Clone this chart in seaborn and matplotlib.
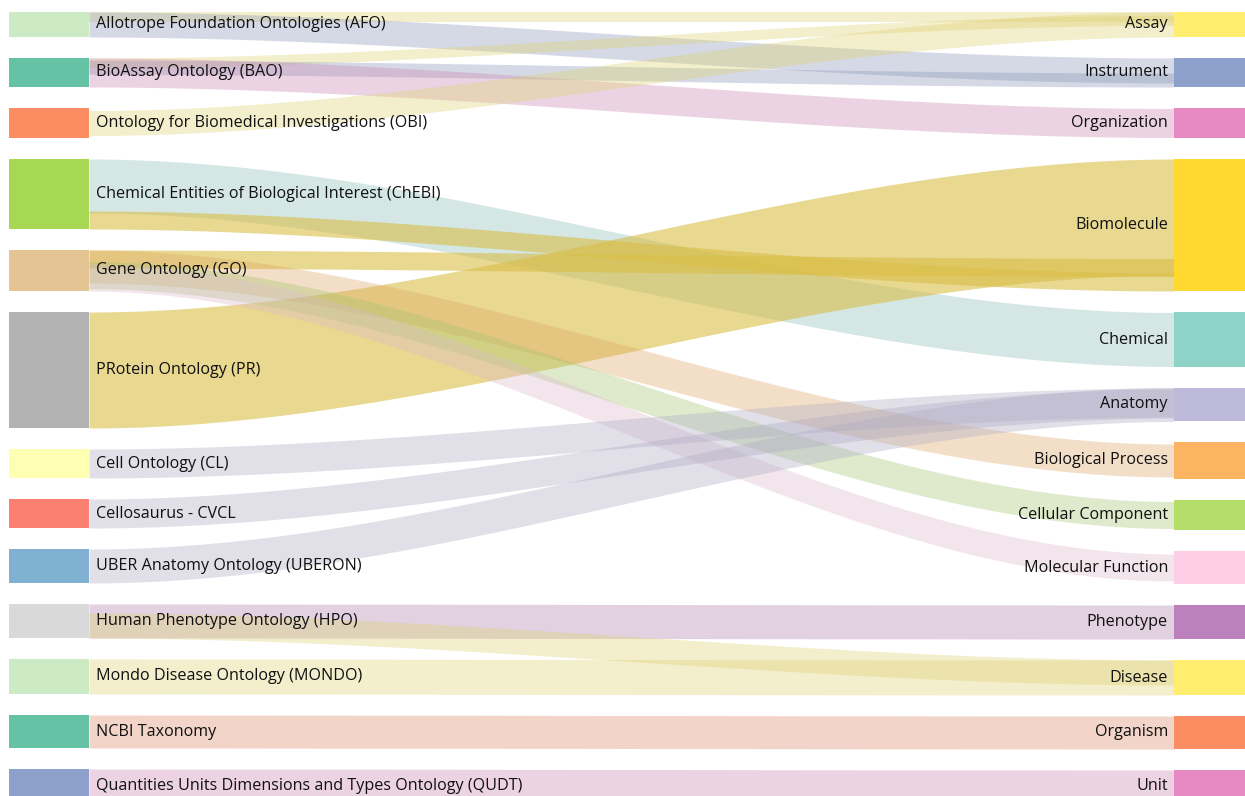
import numpy as np
import matplotlib
matplotlib.use('Agg')
import matplotlib.pyplot as plt
import seaborn as sns

# --- 1. Data ---
left_labels = [
    'Allotrope Foundation Ontologies (AFO)', 'BioAssay Ontology (BAO)',
    'Ontology for Biomedical Investigations (OBI)',
    'Chemical Entities of Biological Interest (ChEBI)', 'Gene Ontology (GO)',
    'PRotein Ontology (PR)', 'Cell Ontology (CL)', 'Cellosaurus - CVCL',
    'UBER Anatomy Ontology (UBERON)', 'Human Phenotype Ontology (HPO)',
    'Mondo Disease Ontology (MONDO)', 'NCBI Taxonomy',
    'Quantities Units Dimensions and Types Ontology (QUDT)',
]
left_keys = ['AFO', 'BAO', 'OBI', 'ChEBI', 'GO', 'PR', 'CL', 'CVCL',
             'UBERON', 'HPO', 'MONDO', 'NCBI', 'QUDT']
left_sizes = [25, 29, 30, 70, 41, 116, 29, 29, 34, 34, 35, 33, 33]

right_labels = [
    'Assay', 'Instrument', 'Organization', 'Biomolecule', 'Chemical', 'Anatomy',
    'Biological Process', 'Cellular Component', 'Molecular Function',
    'Phenotype', 'Disease', 'Organism', 'Unit',
]
right_sizes = [25, 29, 30, 132, 55, 33, 37, 30, 33, 34, 35, 33, 33]

# links: source (left) -> target (right), band width
link_src = ['AFO', 'AFO', 'BAO', 'BAO', 'BAO', 'OBI',
            'ChEBI', 'PR', 'GO', 'ChEBI', 'GO', 'GO', 'GO',
            'CL', 'CVCL', 'UBERON',
            'HPO', 'HPO', 'MONDO', 'NCBI', 'QUDT']
link_tgt = ['Assay', 'Instrument', 'Assay', 'Instrument', 'Organization', 'Assay',
            'Chemical', 'Biomolecule', 'Biomolecule', 'Biomolecule',
            'Biological Process', 'Cellular Component', 'Molecular Function',
            'Anatomy', 'Anatomy', 'Anatomy',
            'Phenotype', 'Disease', 'Disease', 'Organism', 'Unit']
link_val = [10, 25, 10, 14, 29, 25,
            54, 116, 18, 18, 33, 27, 27,
            29, 29, 34,
            34, 25, 35, 33, 33]

# --- 2. Colours ---
set2 = sns.color_palette('Set2')
set3 = sns.color_palette('Set3', 12)
left_colors = [set3[10], set2[0], set2[1], set2[4], set2[6], set2[7], set3[1],
               set3[3], set3[4], set3[8], set3[10], set2[0], set2[2]]
right_colors = [set3[11], set2[2], set2[3], set2[5], set3[0], set3[2], set3[5],
                set3[6], set3[7], set3[9], set3[11], set2[1], set2[3]]

# --- 3. Layout ---
gap = 21
top = 12
node_w = 80
x_left = 9
x_right = 1174


def stack(sizes):
    ys = []
    y = top
    for s in sizes:
        ys.append(y)
        y += s + gap
    return ys


def band_tops(node_y, node_h, widths):
    # spread the band ends over the node; bands overlap when they don't fit
    total = sum(widths)
    tops = []
    cum = 0
    for w in widths:
        centre = (cum + w / 2) / total * node_h
        if w >= node_h:
            t0 = (node_h - w) / 2
        else:
            t0 = min(max(centre - w / 2, 0), node_h - w)
        tops.append(node_y + t0)
        cum += w
    return tops


left_y = stack(left_sizes)
right_y = stack(right_sizes)

src_idx = [left_keys.index(s) for s in link_src]
tgt_idx = [right_labels.index(t) for t in link_tgt]
n_links = len(link_val)

src_top = [0.0] * n_links
tgt_top = [0.0] * n_links
for i in range(len(left_sizes)):
    ids = [k for k in range(n_links) if src_idx[k] == i]
    if ids:
        for k, y in zip(ids, band_tops(left_y[i], left_sizes[i], [link_val[k] for k in ids])):
            src_top[k] = y
for i in range(len(right_sizes)):
    ids = [k for k in range(n_links) if tgt_idx[k] == i]
    if ids:
        for k, y in zip(ids, band_tops(right_y[i], right_sizes[i], [link_val[k] for k in ids])):
            tgt_top[k] = y

sns.set_theme(style='white')
plt.rcParams['font.family'] = ['Open Sans', 'DejaVu Sans']

fig = plt.figure(figsize=(12.45, 7.96), dpi=100)
ax = fig.add_axes([0, 0, 1, 1])
ax.set_xlim(0, 1245)
ax.set_ylim(796, 0)
ax.axis('off')

x0 = x_left + node_w
x1 = x_right
xs = np.linspace(x0, x1, 300)
t = (xs - x0) / (x1 - x0)
ease = t * t * (3 - 2 * t)

grey = np.array([0.5, 0.5, 0.5])
for k in range(n_links):
    w = link_val[k]
    upper = src_top[k] + (tgt_top[k] - src_top[k]) * ease
    lower = upper + w
    if link_tgt[k] == 'Biomolecule':
        # the biomolecule bands are drawn in a darker gold
        col = 0.7 * np.array(right_colors[tgt_idx[k]]) + 0.3 * grey
        a = 0.6
    else:
        col = 0.75 * np.array(right_colors[tgt_idx[k]]) + 0.25 * grey
        a = 0.36
    ax.fill_between(xs, upper, lower, color=col, alpha=a, lw=0)

# --- 4. Nodes and labels ---
for i, lab in enumerate(left_labels):
    ax.add_patch(plt.Rectangle((x_left, left_y[i]), node_w, left_sizes[i],
                               color=left_colors[i], lw=0))
    ax.text(x_left + node_w + 7, left_y[i] + left_sizes[i] / 2, lab,
            ha='left', va='center', fontsize=11.6, color='#111111')

for i, lab in enumerate(right_labels):
    ax.add_patch(plt.Rectangle((x_right, right_y[i]), node_w, right_sizes[i],
                               color=right_colors[i], lw=0))
    ax.text(x_right - 6, right_y[i] + right_sizes[i] / 2, lab,
            ha='right', va='center', fontsize=11.6, color='#111111')

fig.savefig('out.png', dpi=100)
